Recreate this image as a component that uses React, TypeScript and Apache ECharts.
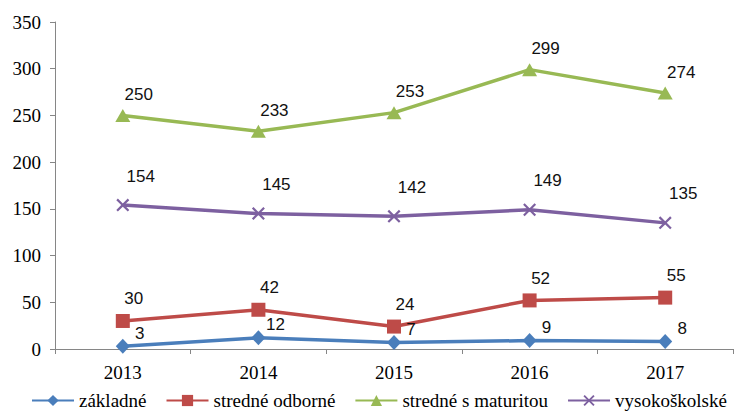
import React, { useEffect, useRef } from "react";
import * as echarts from "echarts";

const years = ["2013", "2014", "2015", "2016", "2017"];
const zakladne = [3, 12, 7, 9, 8];
const stredneOdborne = [30, 42, 24, 52, 55];
const stredneMaturitou = [250, 233, 253, 299, 274];
const vysokoskolske = [154, 145, 142, 149, 135];
const seriesNames = ["základné", "stredné odborné", "stredné s maturitou", "vysokoškolské"];

const crossPath =
  "path://M0,1.2 L1.2,0 L5,3.8 L8.8,0 L10,1.2 L6.2,5 L10,8.8 L8.8,10 L5,6.2 L1.2,10 L0,8.8 L3.8,5 Z";

const serif = "Liberation Serif";
const sans = "Liberation Sans";

export default function App() {
  const ref = useRef<HTMLDivElement>(null);
  useEffect(() => {
    const chart = echarts.init(ref.current!, undefined, { renderer: "svg" });
    const mk = (
      name: string,
      data: number[],
      color: string,
      symbol: string,
      symbolSize: number | number[],
      offset: number[]
    ) => ({
      name,
      type: "line",
      data,
      symbol,
      symbolSize,
      showAllSymbol: true,
      lineStyle: { color, width: 3.5 },
      itemStyle: { color, borderWidth: 0 },
      label: {
        show: true,
        position: "inside",
        offset,
        color: "#111",
        fontFamily: sans,
        fontSize: 17,
      },
    });
    chart.setOption({
      animation: false,
      backgroundColor: "#fff",
      textStyle: { fontFamily: serif },
      grid: { left: 55, right: 2, top: 22, bottom: 66 },
      xAxis: {
        type: "category",
        data: years,
        boundaryGap: true,
        axisLine: { lineStyle: { color: "#868686", width: 1 } },
        axisTick: { show: true, length: 5, lineStyle: { color: "#868686" } },
        axisLabel: { color: "#000", fontFamily: serif, fontSize: 19, margin: 14 },
      },
      yAxis: {
        type: "value",
        min: 0,
        max: 350,
        interval: 50,
        splitLine: { show: false },
        axisLine: { show: true, lineStyle: { color: "#868686", width: 1 } },
        axisTick: { show: true, length: 5, lineStyle: { color: "#868686" } },
        axisLabel: { color: "#000", fontFamily: serif, fontSize: 19, margin: 14 },
      },
      legend: {
        bottom: 0,
        left: 31,
        width: 760,
        padding: [5, 0, 5, 0],
        itemWidth: 42,
        itemHeight: 14,
        itemGap: 19,
        textStyle: { color: "#000", fontFamily: serif, fontSize: 19 },
        data: seriesNames,
      },
      series: [
        mk(seriesNames[0], zakladne, "#4A7EBB", "diamond", [14, 15], [17, -13]),
        mk(seriesNames[1], stredneOdborne, "#BE4B48", "rect", 14, [11, -22]),
        mk(seriesNames[2], stredneMaturitou, "#98B954", "triangle", [15, 13], [16, -21]),
        mk(seriesNames[3], vysokoskolske, "#7D60A0", crossPath, 13, [18, -29]),
      ],
    });
    return () => chart.dispose();
  }, []);
  return (
    <div
      ref={ref}
      style={{ position: "fixed", left: 0, top: 0, width: 735, height: 415 }}
    />
  );
}
